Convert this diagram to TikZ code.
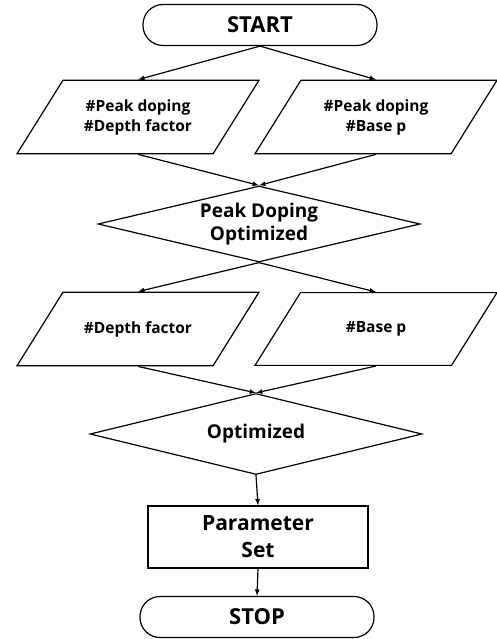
\documentclass[tikz,border=0pt]{standalone}
\usepackage{fontspec}
\setmainfont{Open Sans}
\usetikzlibrary{arrows,shapes.geometric,shapes.misc}
\newcommand{\mylw}{1.2pt}
\tikzset{
    termsty/.style={draw,rectangle,rounded corners=20pt,minimum width=234pt,minimum height=41pt,font=\fontsize{22}{24}\selectfont\bfseries,anchor=center},
    iosty/.style={draw,trapezium,trapezium left angle=58,trapezium right angle=122,trapezium stretches body,minimum width=242pt,inner xsep=1pt,inner ysep=#1,align=center,font=\fontsize{15.5}{20}\selectfont\bfseries,anchor=center},
    decsty/.style={draw,diamond,aspect=4.3,inner sep=0pt,align=center,font=\fontsize{19}{23}\selectfont\bfseries,anchor=center},
    procsty/.style={draw,rectangle,minimum width=220pt,minimum height=62pt,align=center,font=\fontsize{21}{27}\selectfont\bfseries,anchor=center},
    arrsty/.style={->,shorten >=0pt},
}

\begin{document}
\begin{tikzpicture}[>=latex,x=1pt,y=-1pt,line width=\mylw]
  \useasboundingbox (0,0) rectangle (496,639);

  % top part
  \node[termsty] (start) at (260,25) {START};
  \node[iosty=19pt] (pkdf) at (138,117) {\#Peak doping\\\#Depth factor};
  \node[iosty=19pt] (pkbp) at (376,117) {\#Peak doping\\\#Base p};
  \node[decsty,minimum width=322pt,minimum height=76pt] (pkopt) at (259,224) {Peak Doping\\Optimized};

  % second part
  \node[iosty=29pt] (df) at (138,329) {\#Depth factor};
  \node[iosty=29pt] (bp) at (376,329) {\#Base p};
  \node[decsty,minimum width=332pt,minimum height=81pt] (opt) at (256,434) {Optimized};
  \node[procsty] (pset) at (258,537) {Parameter\\Set};
  \node[termsty] (stop) at (257,617) {STOP};

  \draw[arrsty] (start.south) -- (pkdf.north);
  \draw[arrsty] (start.south) -- (pkbp.north);
  \draw[arrsty] (pkdf.south) -- (pkopt.north);
  \draw[arrsty] (pkbp.south) -- (pkopt.north);
  \draw[arrsty] (pkopt.south) -- (df.north);
  \draw[arrsty] (pkopt.south) -- (bp.north);
  \draw[arrsty] (df.south) -- (opt.north);
  \draw[arrsty] (bp.south) -- (opt.north);
  \draw[arrsty] (opt.south) -- (pset.north);
  \draw[arrsty] (pset.south) -- (stop.north);
\end{tikzpicture}
\end{document}
